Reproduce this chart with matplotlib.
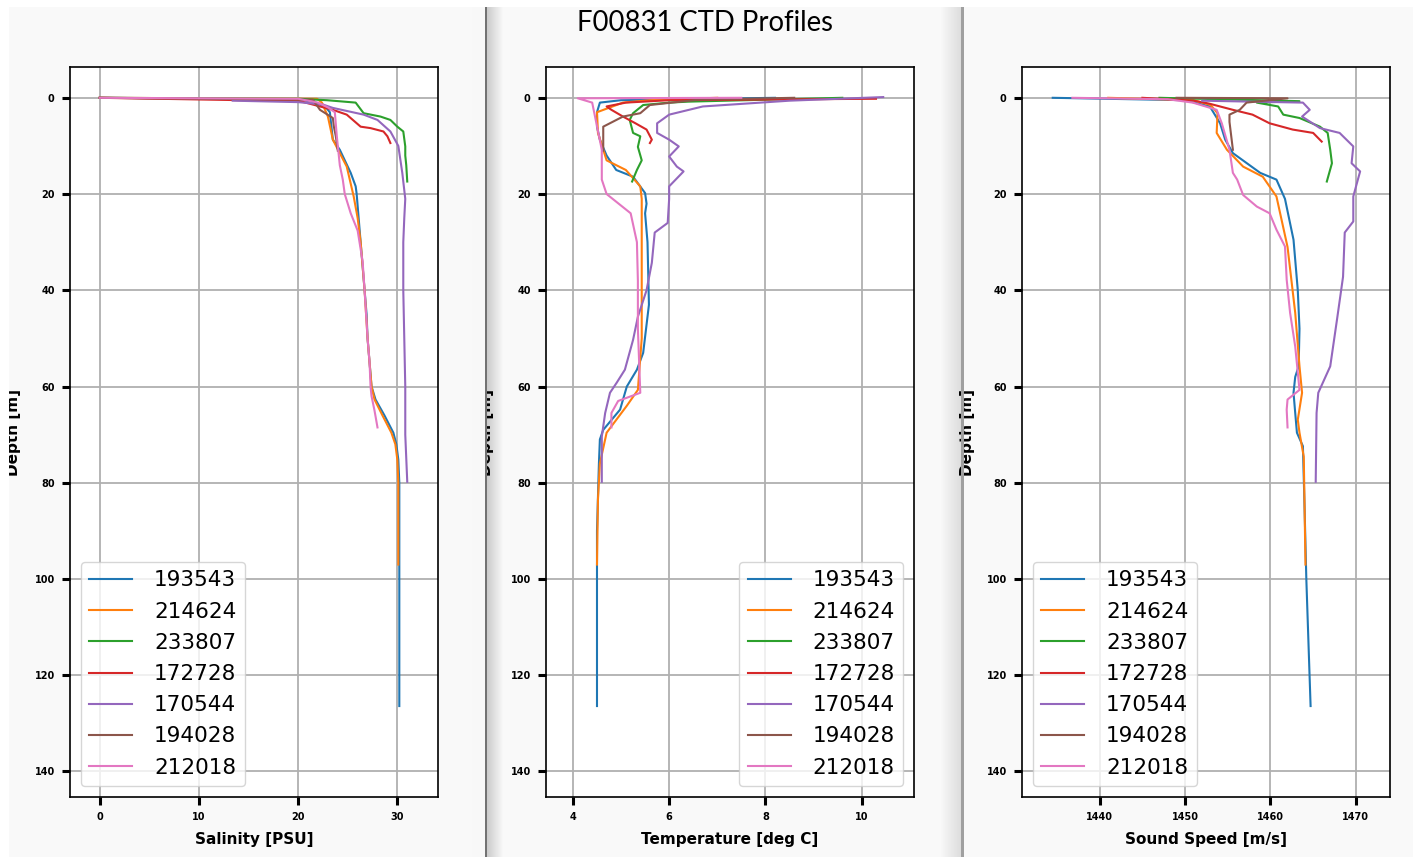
import numpy as np
import matplotlib
matplotlib.use("Agg")
import matplotlib.pyplot as plt

W, H = 1413, 857

casts = ["193543", "214624", "233807", "172728", "170544", "194028", "212018"]

# depth [m] and value per cast, one dict per variable
salinity = {
    "193543": ([0, 0.3, 1.0, 2.0, 3.0, 5.0, 8.7, 10.8, 15.6, 18.4, 20, 25, 30, 35, 40, 45, 50, 55, 60, 62.7, 66, 69.6, 72, 75.2, 80, 90, 100, 110, 120, 126.4],
               [0, 20.0, 21.8, 22.8, 23.2, 23.3, 23.5, 24.2, 25.3, 25.8, 25.9, 26.1, 26.3, 26.5, 26.7, 26.9, 27.0, 27.2, 27.4, 27.8, 28.7, 29.6, 29.9, 30.1, 30.2, 30.2, 30.2, 30.2, 30.2, 30.2]),
    "214624": ([0, 0.2, 1.0, 3.9, 8.7, 14.3, 20.5, 25, 30, 40, 50, 60, 62.7, 66, 69.6, 72, 75.2, 80, 90, 97],
               [0, 21.9, 22.4, 23.0, 23.5, 24.9, 25.6, 26.0, 26.3, 26.7, 27.0, 27.4, 27.7, 28.5, 29.4, 29.8, 30.0, 30.1, 30.1, 30.1]),
    "233807": ([0, 0.2, 0.5, 1.0, 3.2, 3.9, 4.6, 6.0, 7.0, 10.1, 12, 14, 17.4],
               [0, 20.0, 22.9, 25.8, 26.6, 28.3, 29.3, 30.0, 30.6, 30.8, 30.8, 30.9, 31.0]),
    "172728": ([0, 0.7, 1.8, 2.5, 3.5, 6.0, 6.3, 7.0, 8.0, 9.4],
               [0, 20.2, 22.2, 23.5, 24.9, 26.3, 27.3, 28.6, 29.0, 29.3]),
    "170544": ([0.6, 0.9, 1.4, 2.1, 3.5, 4.6, 7.0, 10, 15.6, 21, 25, 30, 40, 50, 60, 70, 79.8],
               [13.4, 20.0, 22.5, 23.5, 26.6, 28.0, 29.3, 30.1, 30.5, 30.8, 30.7, 30.6, 30.6, 30.7, 30.8, 30.8, 31.0]),
    "194028": ([0, 0.4, 2.5, 4.2, 6, 8, 11],
               [0, 21.5, 22.2, 23.5, 23.6, 23.8, 24.0]),
    "212018": ([0, 0.2, 1.0, 2.0, 3.0, 8, 14, 17, 20, 24, 27.6, 34, 40, 50, 55, 60, 62, 65, 68.5],
               [0, 20.0, 22.0, 23.0, 23.7, 23.9, 24.2, 24.5, 24.7, 25.3, 26.0, 26.5, 26.7, 27.0, 27.2, 27.3, 27.4, 27.7, 28.0]),
}

temperature = {
    "193543": ([0, 0.5, 1.0, 3, 6, 8.7, 12, 15, 16.4, 19.8, 22, 24, 30, 34.3, 43, 48, 53, 56.5, 60, 64.8, 69, 71, 76, 90, 110, 126.4],
               [8.2, 5.0, 4.56, 4.5, 4.5, 4.56, 4.7, 4.9, 5.25, 5.5, 5.53, 5.5, 5.55, 5.56, 5.58, 5.52, 5.46, 5.33, 5.12, 4.98, 4.63, 4.56, 4.54, 4.5, 4.5, 4.5]),
    "214624": ([0, 0.5, 1.0, 3.0, 7.3, 13, 15, 18.4, 21, 31, 50, 60.7, 64, 69.6, 76, 83.5, 97],
               [7.0, 5.6, 5.04, 4.5, 4.52, 4.7, 5.1, 5.4, 5.43, 5.43, 5.43, 5.35, 5.12, 4.7, 4.56, 4.52, 4.5]),
    "233807": ([0, 0.8, 1.0, 1.5, 3.2, 4.6, 7.3, 8, 10.2, 13, 15, 17.4],
               [9.6, 6.4, 6.0, 5.46, 5.25, 5.18, 5.25, 5.4, 5.35, 5.43, 5.33, 5.23]),
    "172728": ([0.2, 0.5, 1.0, 1.8, 2.5, 3.9, 5.3, 6.6, 8.7, 9.4],
               [10.3, 6.0, 5.1, 4.7, 4.8, 5.04, 5.3, 5.53, 5.64, 5.6]),
    "170544": ([-0.15, 0.6, 1.0, 1.8, 3.5, 5.3, 7.3, 8.7, 10.1, 12.2, 14.3, 15.3, 18.4, 21, 26, 28, 34.3, 40, 45.5, 50.3, 56.5, 59.2, 61.3, 65.5, 70.4, 79.8],
               [10.45, 8.5, 7.9, 6.7, 6.0, 5.75, 5.75, 6.0, 6.2, 6.0, 6.16, 6.3, 6.0, 6.0, 5.97, 5.7, 5.64, 5.53, 5.35, 5.25, 5.08, 4.91, 4.77, 4.67, 4.6, 4.6]),
    "194028": ([0, 0.4, 1.5, 3.2, 3.9, 6, 11],
               [8.6, 6.6, 5.6, 5.4, 5.04, 4.63, 4.63]),
    "212018": ([0, 0.1, 1.0, 10.8, 17, 20, 24, 30, 38, 48, 61.3, 63, 65.5, 68.5],
               [7.5, 4.1, 4.4, 4.6, 4.6, 4.7, 5.2, 5.33, 5.35, 5.35, 5.4, 4.94, 4.8, 4.8]),
}

sound_speed = {
    "193543": ([0, 0.5, 1.8, 5.3, 8.7, 11.5, 15.6, 17, 21, 29.5, 40, 48, 55.8, 58, 61.3, 65.5, 69.6, 72.4, 85.6, 100, 126.4],
               [1434.5, 1450, 1452.9, 1454.1, 1454.7, 1455.6, 1458.8, 1460.7, 1461.7, 1462.7, 1463.2, 1463.4, 1463.3, 1462.9, 1462.7, 1462.9, 1463.1, 1463.8, 1464.0, 1464.2, 1464.7]),
    "214624": ([0, 0.5, 1.5, 3.2, 7.3, 10.8, 14.3, 16.4, 20.5, 31, 44.7, 55.8, 61.3, 66.9, 69.6, 74.6, 85.6, 97],
               [1441, 1451, 1453, 1453.8, 1453.7, 1454.9, 1456.8, 1459.1, 1460.7, 1462.0, 1462.9, 1463.4, 1463.7, 1463.2, 1463.4, 1463.9, 1464.0, 1464.1]),
    "233807": ([0, 0.7, 1.0, 1.8, 3.5, 4.2, 6.0, 7.3, 10.8, 13.6, 17.4],
               [1447, 1463.4, 1458.4, 1460.9, 1461.5, 1463.4, 1465.8, 1466.7, 1467.0, 1467.2, 1466.6]),
    "172728": ([0, 0.6, 1.2, 2.5, 3.5, 5.3, 6.6, 7.3, 9.1],
               [1445, 1451, 1452.8, 1455.6, 1457.9, 1459.9, 1462.6, 1465.0, 1466.0]),
    "170544": ([0.6, 1.0, 2.5, 3.9, 6.3, 7.3, 10.1, 13.6, 15.3, 20.5, 25.7, 28, 37.2, 46, 55.8, 61.3, 65.5, 79.8],
               [1452, 1463.8, 1464.6, 1463.7, 1465.8, 1468.1, 1469.7, 1469.5, 1470.5, 1469.7, 1469.7, 1468.7, 1468.5, 1467.8, 1467.0, 1465.6, 1465.4, 1465.3]),
    "194028": ([0, 0.1, 1.0, 2.5, 3.5, 5.0, 10.8],
               [1449, 1462, 1457.2, 1456.4, 1455.2, 1455.2, 1455.6]),
    "212018": ([0, 0.3, 1.0, 2.5, 5.3, 10.8, 15.6, 17, 20.2, 22.6, 24, 27.4, 30.9, 37.8, 44.7, 51.7, 60.7, 62.7, 64.8, 68.5],
               [1436.8, 1448, 1450.9, 1453.7, 1454.3, 1455.2, 1455.6, 1456.1, 1456.8, 1458.4, 1459.9, 1460.7, 1461.7, 1461.9, 1462.3, 1462.9, 1463.4, 1462.0, 1461.9, 1462.0]),
}

panels = [
    (salinity, "Salinity [PSU]", (-3.0, 34.1), [0, 10, 20, 30], "lower left", 70),
    (temperature, "Temperature [deg C]", (3.44, 11.09), [4, 6, 8, 10], "lower right", 546),
    (sound_speed, "Sound Speed [m/s]", (1430.9, 1474.0), [1440, 1450, 1460, 1470], "lower left", 1022),
]
depth_ticks = [0, 20, 40, 60, 80, 100, 120, 140]
ylabel_right = [21, 494, 975]   # pixel column of the label's right edge

bg = "#f9f9f9"
fig = plt.figure(figsize=(W / 100, H / 100), dpi=100, facecolor=bg)


def px_axes(left, top, width, height, **kw):
    return fig.add_axes([left / W, 1 - (top + height) / H, width / W, height / H], **kw)


for i, (data, xlabel, xlim, xticks, loc, left) in enumerate(panels):
    ax = px_axes(left, 67, 368, 730)
    for cast in casts:
        d, v = data[cast]
        ax.plot(v, d, lw=1.5, label=cast)
    ax.set_xlim(*xlim)
    ax.set_ylim(145.3, -6.4)
    ax.set_xticks(xticks)
    ax.set_yticks(depth_ticks)
    ax.grid(True, color="#b0b0b0", lw=1.3)
    ax.tick_params(length=6, width=2.2, pad=5, labelsize=7, color="black")
    for lab in ax.get_xticklabels() + ax.get_yticklabels():
        lab.set_fontweight("bold")
    for sp in ax.spines.values():
        sp.set_linewidth(1.2)
    ax.set_xlabel(xlabel, fontsize=11, fontweight="bold", labelpad=7)
    ax.set_ylabel("Depth [m]", fontsize=11, fontweight="bold")
    ax.yaxis.set_label_coords((ylabel_right[i] - left) / 368, 0.5)
    ax.legend(loc=loc, fontsize=15.5, labelspacing=0.52, handlelength=2.0,
              handletextpad=1.0, borderaxespad=0.5)

fig.text(705 / W, 1 - 23 / H, "F00831 CTD Profiles", ha="center", va="center",
         fontsize=19.8, family="Lato")


# window edges between the three plots
def band(x0, x1, colors, z):
    bax = px_axes(x0, 0, x1 - x0, H, zorder=z)
    rgb = np.array(colors, dtype=float)[None, :, :]
    bax.imshow(rgb, aspect="auto", extent=(0, 1, 0, 1), interpolation="bilinear")
    bax.set_axis_off()


shade1 = [(g, g, g) for g in np.linspace(0.80, 0.97, 16)]
shade2 = [(g, g, g) for g in np.linspace(0.97, 0.87, 20)]
band(487, 503, shade1, -1)
band(941, 961, shade2, -1)
band(472, 485, [(0.976, 0.976, 0.976)], 5)
band(485, 487, [(0.45, 0.45, 0.45)], 5)
band(961, 964, [(0.63, 0.63, 0.63)], 5)
band(0, 9, [(1.0, 1.0, 1.0)], 5)

strip = px_axes(0, 0, W, 7, zorder=5)
strip.add_patch(plt.Rectangle((0, 0), 1, 1, color="white", transform=strip.transAxes))
strip.set_axis_off()

fig.savefig("out.png", dpi=100, facecolor=bg)
